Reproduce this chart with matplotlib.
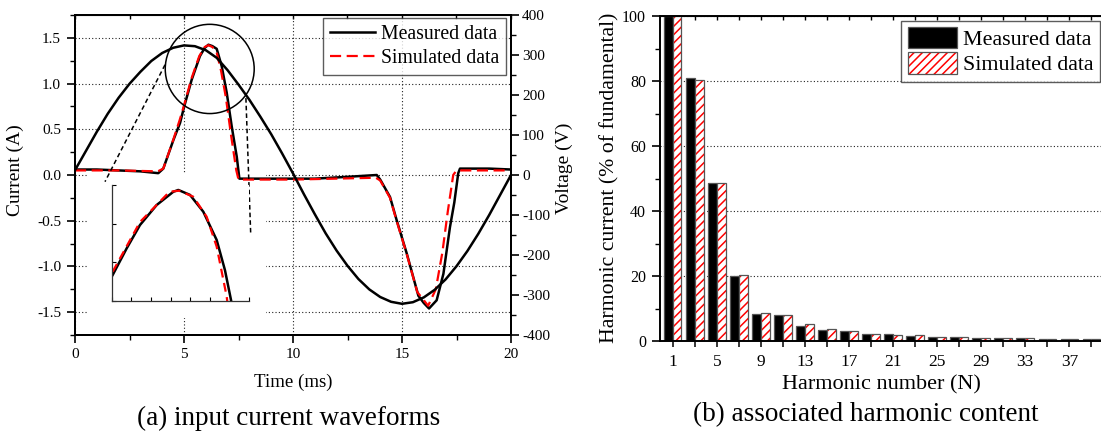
import numpy as np
import matplotlib
matplotlib.use('Agg')
import matplotlib.pyplot as plt
from matplotlib.patches import Ellipse, Rectangle
from matplotlib.ticker import MultipleLocator

plt.rcParams['font.family'] = ['Liberation Serif', 'DejaVu Serif']
plt.rcParams['axes.unicode_minus'] = False
plt.rcParams['hatch.linewidth'] = 1.1
plt.rcParams['hatch.color'] = 'red'

# (a) input current waveforms
volt_t = [0, 0.5, 1, 1.5, 2, 2.5, 3, 3.5, 4, 4.5, 5, 5.5, 6, 6.5, 7, 7.5, 8, 8.5, 9, 9.5, 10,
          10.5, 11, 11.5, 12, 12.5, 13, 13.5, 14, 14.5, 15, 15.5, 16, 16.5, 17, 17.5, 18, 18.5, 19, 19.5, 20]
volt_v = [12, 60, 108, 153, 193, 228, 258, 285, 305, 318, 324, 322, 312, 293, 262, 226, 188, 146, 102, 54, 4,
          -48, -98, -146, -189, -227, -260, -286, -305, -317, -322, -318, -306, -287, -261, -228, -190, -147, -100, -50, 0]

meas_t = [0, 1, 2, 3, 3.82, 4.05, 4.51, 4.82, 5.01, 5.35, 5.73, 5.95, 6.12, 6.3, 6.5, 6.73, 6.96, 7.19, 7.42, 7.54,
          9, 11, 12.5, 13.84, 14.0, 14.45, 14.75, 15.22, 15.75, 16.0, 16.24, 16.59, 16.9, 17.2, 17.4, 17.58, 17.66, 19, 20]
meas_i = [0.06, 0.06, 0.05, 0.04, 0.02, 0.07, 0.38, 0.57, 0.75, 1.04, 1.30, 1.39, 1.425, 1.41, 1.38, 1.19, 0.90, 0.53, 0.20, -0.04,
          -0.04, -0.04, -0.02, 0.0, -0.05, -0.24, -0.49, -0.86, -1.32, -1.40, -1.46, -1.37, -1.08, -0.57, -0.30, 0.02, 0.07, 0.07, 0.06]

sim_t = [0, 2, 3.8, 4.05, 4.5, 4.8, 5.0, 5.35, 5.7, 5.95, 6.12, 6.3, 6.5, 6.7, 6.92, 7.15, 7.4, 7.5,
         10, 13.8, 14.0, 14.45, 14.75, 15.2, 15.7, 16.2, 16.55, 16.85, 17.1, 17.35, 17.5, 20]
sim_i = [0.05, 0.05, 0.04, 0.07, 0.38, 0.60, 0.76, 1.06, 1.30, 1.40, 1.42, 1.40, 1.34, 1.14, 0.85, 0.45, 0.05, -0.05,
         -0.05, -0.03, -0.06, -0.25, -0.50, -0.85, -1.28, -1.43, -1.25, -0.85, -0.40, 0.0, 0.05, 0.05]

# zoomed view of the current peak (inset)
zoom_meas_t = [4.917, 5.162, 5.394, 5.685, 5.975, 6.062, 6.266, 6.498, 6.731, 6.875, 6.981, 7.02]
zoom_meas_i = [0.871, 1.049, 1.204, 1.337, 1.425, 1.437, 1.404, 1.292, 1.104, 0.904, 0.705, 0.62]
zoom_sim_t = [4.917, 5.394, 5.908, 6.076, 6.323, 6.556, 6.731, 6.906, 6.93]
zoom_sim_i = [0.893, 1.224, 1.425, 1.432, 1.392, 1.259, 1.06, 0.727, 0.65]

# (b) harmonic content
harm_n = [1, 3, 5, 7, 9, 11, 13, 15, 17, 19, 21, 23, 25, 27, 29, 31, 33, 35, 37, 39]
harm_meas = [100, 80.8, 48.6, 20.0, 8.3, 7.9, 4.6, 3.4, 3.2, 2.15, 2.05, 1.55, 1.25, 1.2, 0.9, 0.9, 0.9, 0.5, 0.5, 0.5]
harm_sim = [100, 80.3, 48.6, 20.2, 8.5, 8.0, 5.2, 3.6, 3.2, 2.05, 1.85, 1.75, 1.1, 1.1, 1.0, 0.8, 0.8, 0.5, 0.5, 0.5]

W, H = 1101, 433
fig = plt.figure(figsize=(W / 100, H / 100), dpi=100)

dotted = (0, (1, 2))

# ---------------- panel (a) ----------------
ax = fig.add_axes([75 / W, 98 / H, 436 / W, 320 / H])
ax.set_xlim(0, 20)
ax.set_ylim(-1.75, 1.75)
ax.xaxis.set_major_locator(MultipleLocator(5))
ax.xaxis.set_minor_locator(MultipleLocator(2.5))
ax.yaxis.set_major_locator(MultipleLocator(0.5))
ax.yaxis.set_minor_locator(MultipleLocator(0.25))
ax.yaxis.set_major_formatter(lambda v, p: f'{v:.1f}')
ax.tick_params(which='major', length=6, width=1.2, labelsize=11, pad=3)
ax.tick_params(which='minor', length=3.5, width=1.0)
ax.tick_params(axis='y', pad=4)
for s in ax.spines.values():
    s.set_linewidth(1.4)
ax.set_axisbelow(True)
ax.grid(True, which='major', color='#222222', linestyle=dotted, linewidth=0.8)

top = ax.secondary_xaxis('top')
top.xaxis.set_major_locator(MultipleLocator(2.5))
top.tick_params(direction='in', length=3, width=1.0, labeltop=False)

# white frame behind the inset hides the grid
ax.add_patch(Rectangle((88 / W, (H - 318) / H), 178 / W, 145 / H, transform=fig.transFigure,
                       facecolor='white', edgecolor='none', zorder=1))

l1, = ax.plot(meas_t, meas_i, color='black', lw=1.8, zorder=3, label='Measured data')
l2, = ax.plot(sim_t, sim_i, color='red', lw=1.6, ls=(0, (5, 2.5)), zorder=4, label='Simulated data')

ax.add_patch(Ellipse((6.18, 1.16), 4.08, 0.976, fill=False, edgecolor='black', lw=1.1, zorder=5))
ax.plot([4.13, 1.376], [1.206, -0.073], color='black', lw=1.1, ls=(0, (3, 2)), zorder=5)
ax.plot([7.84, 8.06], [0.841, -0.647], color='black', lw=1.1, ls=(0, (3, 2)), zorder=5)

ax.set_xlabel('Time (ms)', fontsize=13.6)
ax.xaxis.set_label_coords(0.501, -0.147)
ax.xaxis.label.set_va('center')
ax.set_ylabel('Current (A)', fontsize=14)
ax.yaxis.set_label_coords(-0.1376, 0.515)
ax.yaxis.label.set_va('center')

ax2 = ax.twinx()
ax2.set_ylim(-400, 400)
ax2.yaxis.set_major_locator(MultipleLocator(100))
ax2.yaxis.set_minor_locator(MultipleLocator(50))
ax2.tick_params(which='major', length=6, width=1.2, labelsize=11, pad=2)
ax2.tick_params(which='minor', length=3.5, width=1.0)
for s in ax2.spines.values():
    s.set_linewidth(1.4)
ax2.plot(volt_t, volt_v, color='black', lw=1.8)
ax2.set_ylabel('Voltage (V)', fontsize=14)
ax2.yaxis.set_label_coords(1.122, 0.52)
ax2.yaxis.label.set_va('center')
ax2.yaxis.label.set_rotation(90)

leg = ax2.legend([l1, l2], ['Measured data', 'Simulated data'], loc='upper right',
                 bbox_to_anchor=(506 / W, (H - 18) / H), bbox_transform=fig.transFigure,
                 fontsize=14.2, frameon=True, fancybox=False, borderaxespad=0,
                 handlelength=2.3, handletextpad=0.3, labelspacing=0.25, borderpad=0.35)
leg.get_frame().set_edgecolor('#333333')
leg.get_frame().set_linewidth(1.0)

ins = fig.add_axes([111.7 / W, (H - 300.7) / H, 137.6 / W, 115.7 / H])
ins.set_xlim(4.9, 7.3)
ins.set_ylim(0.70, 1.47)
ins.plot(zoom_meas_t, zoom_meas_i, color='black', lw=1.8)
ins.plot(zoom_sim_t, zoom_sim_i, color='red', lw=1.6, ls=(0, (4, 2.5)))
ins.set_xticks(np.linspace(4.9, 7.3, 8))
ins.set_yticks(np.linspace(0.70, 1.47, 4))
ins.tick_params(direction='in', length=3, width=0.8, labelbottom=False, labelleft=False)
ins.spines['top'].set_visible(False)
ins.spines['right'].set_visible(False)
for s in ('left', 'bottom'):
    ins.spines[s].set_linewidth(0.9)
    ins.spines[s].set_color('#333333')

# ---------------- panel (b) ----------------
bx = fig.add_axes([660 / W, 92 / H, 441 / W, 325 / H])
bx.set_xlim(-0.15, 39.87)
bx.set_ylim(0, 100)
bx.set_axisbelow(True)
bx.set_xticks(harm_n[::2])
bx.set_xticks(harm_n[1::2], minor=True)
bx.yaxis.set_major_locator(MultipleLocator(20))
bx.yaxis.set_minor_locator(MultipleLocator(10))
bx.tick_params(axis='x', which='both', length=4, width=1.1, labelsize=12.5, pad=5)
bx.tick_params(axis='y', which='major', length=6, width=1.2, labelsize=11.5, pad=4)
bx.tick_params(axis='y', which='minor', length=3.5, width=1.0)
bx.grid(True, axis='y', color='#222222', linestyle=dotted, linewidth=0.8)
for s in bx.spines.values():
    s.set_linewidth(1.4)
bx.spines['right'].set_visible(False)

btop = bx.secondary_xaxis('top')
btop.set_xticks(range(1, 40, 2))
btop.tick_params(direction='in', length=3, width=1.0, labeltop=False)

xs = np.array(harm_n)
b1 = bx.bar(xs - 0.8, harm_meas, width=0.8, align='edge', color='black', edgecolor='#555555', linewidth=0.9)
b2 = bx.bar(xs, harm_sim, width=0.8, align='edge', color='white', hatch='////', zorder=2)
b3 = bx.bar(xs, harm_sim, width=0.8, align='edge', fill=False, edgecolor='#555555', linewidth=0.9, zorder=2.1)

bx.set_xlabel('Harmonic number (N)', fontsize=16)
bx.xaxis.set_label_coords(0.503, -0.135)
bx.xaxis.label.set_va('center')
bx.set_ylabel('Harmonic current (% of fundamental)', fontsize=15.7)
bx.yaxis.set_label_coords(-0.115, 0.503)
bx.yaxis.label.set_va('center')

leg2 = bx.legend([b1, (b2, b3)], ['Measured data', 'Simulated data'], loc='upper right',
                 bbox_to_anchor=(1100 / W, (H - 20.7) / H), bbox_transform=fig.transFigure,
                 fontsize=15.8, frameon=True, fancybox=False, borderaxespad=0,
                 handlelength=2.25, handleheight=1.1, handletextpad=0.25, labelspacing=0.1, borderpad=0.3)
leg2.get_frame().set_edgecolor('#333333')
leg2.get_frame().set_linewidth(1.0)

fig.text(289 / W, 1 - 418 / H, '(a) input current waveforms', fontsize=19.5, ha='center', va='center')
fig.text(865.5 / W, 1 - 415 / H, '(b) associated harmonic content', fontsize=19.5, ha='center', va='center')

fig.savefig('out.png', dpi=100)
